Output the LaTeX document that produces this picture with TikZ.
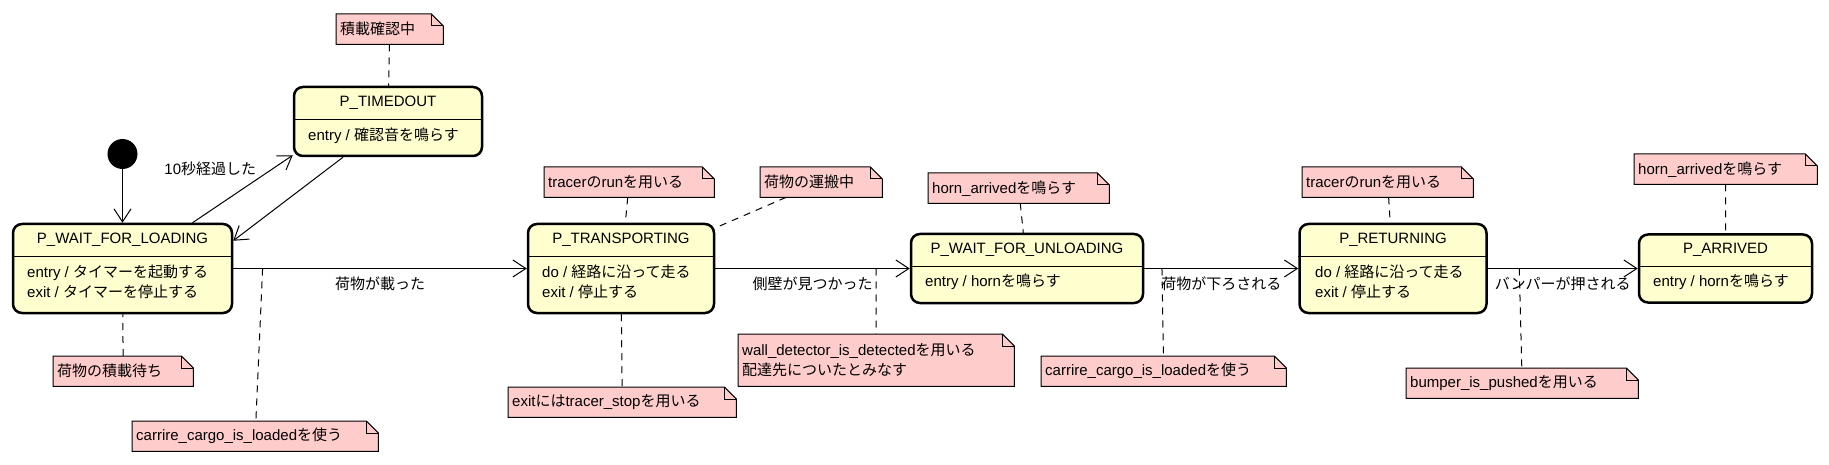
\documentclass[tikz,border=0pt]{standalone}
\usepackage{fontspec}
\setmainfont{Liberation Sans}
\newfontfamily\jp{Noto Sans CJK JP}
\usetikzlibrary{arrows.meta}
\definecolor{statefill}{HTML}{FEFECE}
\definecolor{notepink}{HTML}{FFCCCC}
\hyphenpenalty=10000
\exhyphenpenalty=10000

\begin{document}
\begin{tikzpicture}[x=1pt, y=-1pt,
  font=\fontsize{15}{20}\selectfont,
  statebox/.style={draw, line width=2.5pt, rounded corners=9pt, fill=statefill},
  statename/.style={minimum height=32pt, inner sep=0pt},
  statebody/.style={anchor=west, align=left, inner sep=0pt},
  startdot/.style={circle, fill=black, minimum size=30pt, inner sep=0pt},
  note/.style={anchor=north west, fill=notepink, inner xsep=4pt, inner ysep=2pt,
               minimum height=30pt, align=left},
  noteframe/.style={line width=1pt},
  notelink/.style={dash pattern=on 7pt off 6pt, line width=1pt},
  trans/.style={-{Straight Barb[length=13pt,width=17pt]}, line width=1pt},
  lbl/.style={inner sep=2pt}]

\useasboundingbox (0,0) rectangle (1829,465);

% start

\node[startdot] (start) at (122.5,154) {};

% states

\node[statebox, minimum width=219pt, minimum height=89pt] (wfl) at (122.5,268.5) {};
\node[statename] (wfl-n) at (122.5,240) {P\_WAIT\_FOR\_LOADING};
\node[statebody] (wfl-b) at (27,282) {entry / {\jp タイマーを起動する}\\exit / {\jp タイマーを停止する}};
\draw[line width=1pt] (wfl.west |- wfl-n.south) -- (wfl.east |- wfl-n.south);

\node[statebox, minimum width=188pt, minimum height=69pt] (tmo) at (388,121.5) {};
\node[statename] (tmo-n) at (388,103) {P\_TIMEDOUT};
\node[statebody] (tmo-b) at (308,136) {entry / {\jp 確認音を鳴らす}};
\draw[line width=1pt] (tmo.west |- tmo-n.south) -- (tmo.east |- tmo-n.south);

\node[statebox, minimum width=186pt, minimum height=89pt] (trn) at (621,268.5) {};
\node[statename] (trn-n) at (621,240) {P\_TRANSPORTING};
\node[statebody] (trn-b) at (542,282) {do / {\jp 経路に沿って走る}\\exit / {\jp 停止する}};
\draw[line width=1pt] (trn.west |- trn-n.south) -- (trn.east |- trn-n.south);

\node[statebox, minimum width=232pt, minimum height=69pt] (wfu) at (1027,268.5) {};
\node[statename] (wfu-n) at (1027,250) {P\_WAIT\_FOR\_UNLOADING};
\node[statebody] (wfu-b) at (925,282) {entry / horn{\jp を鳴らす}};
\draw[line width=1pt] (wfu.west |- wfu-n.south) -- (wfu.east |- wfu-n.south);

\node[statebox, minimum width=187pt, minimum height=89pt] (ret) at (1393,268.5) {};
\node[statename] (ret-n) at (1393,240) {P\_RETURNING};
\node[statebody] (ret-b) at (1315,282) {do / {\jp 経路に沿って走る}\\exit / {\jp 停止する}};
\draw[line width=1pt] (ret.west |- ret-n.south) -- (ret.east |- ret-n.south);

\node[statebox, minimum width=173pt, minimum height=68pt] (arr) at (1725.5,268.5) {};
\node[statename] (arr-n) at (1725.5,250) {P\_ARRIVED};
\node[statebody] (arr-b) at (1653,282) {entry / horn{\jp を鳴らす}};
\draw[line width=1pt] (arr.west |- arr-n.south) -- (arr.east |- arr-n.south);

% notes

\node[note, text width=99pt] (note-chk) at (336,14) {{\jp 積載確認中}};
\node[note, text width=132pt] (note-wait) at (53,356) {{\jp 荷物の積載待ち}};
\node[note, text width=238pt] (note-load1) at (132,421) {carrire\_cargo\_is\_loaded{\jp を使う}};
\node[note, text width=162pt] (note-run1) at (544,167) {tracer{\jp の}run{\jp を用いる}};
\node[note, text width=114pt] (note-carry) at (760,167) {{\jp 荷物の運搬中}};
\node[note, text width=268pt, minimum height=52pt] (note-wall) at (738,334)
  {wall\_detector\_is\_detected{\jp を用いる}\\{\jp 配達先についたとみなす}};
\node[note, text width=220pt] (note-stop) at (508,387) {exit{\jp には}tracer\_stop{\jp を用いる}};
\node[note, text width=173pt] (note-horn1) at (928,173) {horn\_arrived{\jp を鳴らす}};
\node[note, text width=237pt] (note-load2) at (1041,356) {carrire\_cargo\_is\_loaded{\jp を使う}};
\node[note, text width=163pt] (note-run2) at (1302,167) {tracer{\jp の}run{\jp を用いる}};
\node[note, text width=224pt] (note-bump) at (1406,368) {bumper\_is\_pushed{\jp を用いる}};
\node[note, text width=175pt] (note-horn2) at (1634,154) {horn\_arrived{\jp を鳴らす}};

\foreach \n in {note-chk,note-wait,note-load1,note-run1,note-carry,note-wall,
                note-stop,note-horn1,note-load2,note-run2,note-bump,note-horn2}{
  \fill[white] ([xshift=-12pt]\n.north east) -- ([xshift=1pt,yshift=1pt]\n.north east)
    -- ([yshift=-12pt]\n.north east) -- cycle;
  \draw[noteframe] (\n.north west) -- ([xshift=-12pt]\n.north east) -- ([yshift=-12pt]\n.north east)
    -- (\n.south east) -- (\n.south west) -- cycle;
  \draw[noteframe] ([xshift=-12pt]\n.north east) -- ([xshift=-12pt,yshift=-12pt]\n.north east)
    -- ([yshift=-12pt]\n.north east);
}

% transitions

\draw[trans] (start) -- (wfl);
\draw[trans] ([xshift=70pt]wfl.north) -- node[lbl, pos=0.66, anchor=south east] (lbl-10s)
  {10{\jp 秒経過した}} ([yshift=2pt]tmo.south west);
\draw[trans] ([xshift=-45pt]tmo.south) -- ([yshift=-18pt]wfl.north east);
\draw[trans] (wfl) -- node[lbl, midway, yshift=-15pt] (lbl-load) {{\jp 荷物が載った}}
  coordinate[pos=0.1] (via-load) (trn);
\draw[trans] (trn) -- node[lbl, midway, yshift=-15pt] (lbl-wall) {{\jp 側壁が見つかった}}
  coordinate[pos=0.827] (via-wall) (wfu);
\draw[trans] (wfu) -- node[lbl, midway, yshift=-15pt] (lbl-unload) {{\jp 荷物が下ろされる}}
  coordinate[pos=0.115] (via-unload) (ret);
\draw[trans] (ret) -- node[lbl, midway, yshift=-15pt] (lbl-bump) {{\jp バンパーが押される}}
  coordinate[pos=0.21] (via-bump) (arr);

% note links

\draw[notelink] (note-chk) -- (tmo);
\draw[notelink] (note-wait) -- (wfl);
\draw[notelink] (via-load) -- (note-load1);
\draw[notelink] (note-run1) -- (trn);
\draw[notelink] (note-carry) -- (trn);
\draw[notelink] (via-wall) -- (note-wall);
\draw[notelink] (trn) -- (note-stop);
\draw[notelink] (note-horn1) -- (wfu);
\draw[notelink] (via-unload) -- (note-load2);
\draw[notelink] (note-run2) -- (ret);
\draw[notelink] (via-bump) -- (note-bump);
\draw[notelink] (note-horn2) -- (arr);

\end{tikzpicture}
\end{document}
